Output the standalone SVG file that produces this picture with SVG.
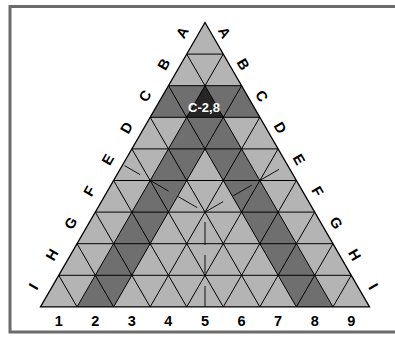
<svg xmlns="http://www.w3.org/2000/svg" width="395" height="341" viewBox="0 0 395 341">
  <style>
    .light { fill: #b4b4b4; }
    .dark { fill: #6f6f6f; }
    .mark { fill: #262626; }
    .grid { stroke: #000; stroke-width: 1; fill: none; }
    .guide { stroke: #111; stroke-width: 1; fill: none; }
    .lbl { font-family: "Liberation Sans", Arial, sans-serif; font-weight: bold; font-size: 14.5px; fill: #000; text-anchor: middle; }
    .cell-lbl { font-family: "Liberation Sans", Arial, sans-serif; font-weight: bold; font-size: 13px; fill: #fff; text-anchor: middle; }
  </style>
  <rect width="395" height="341" fill="#fff"/>
  <rect id="frame" x="10" y="6.5" width="390" height="325.5" fill="none" stroke="#6b6b6b" stroke-width="3"/>

  <g id="cells">
    <polygon class="light" points="205,22.5 40.48,306.9 369.52,306.9"/>
    <polygon class="dark" points="168.44,85.7 241.56,85.7 259.84,117.3 150.16,117.3"/>
    <polygon class="dark" points="186.72,117.3 223.28,117.3 241.56,148.9 168.44,148.9"/>
    <polygon class="dark" points="168.44,148.9 205,148.9 113.6,306.9 77.04,306.9"/>
    <polygon class="dark" points="205,148.9 241.56,148.9 332.96,306.9 296.4,306.9"/>
    <polygon id="cell-C-2-8" class="mark" points="205,85.7 186.72,117.3 223.28,117.3"/>
  </g>

  <g id="grid" class="grid">
    <path d="M186.72,54.1H223.28 M168.44,85.7H241.56 M150.16,117.3H259.84 M131.88,148.9H278.12 M113.6,180.5H296.4 M95.32,212.1H314.68 M77.04,243.7H332.96 M58.76,275.3H351.24"/>
    <path d="M77.04,306.9L223.28,54.1 M113.6,306.9L241.56,85.7 M150.16,306.9L259.84,117.3 M186.72,306.9L278.12,148.9 M223.28,306.9L296.4,180.5 M259.84,306.9L314.68,212.1 M296.4,306.9L332.96,243.7 M332.96,306.9L351.24,275.3"/>
    <path d="M332.96,306.9L186.72,54.1 M296.4,306.9L168.44,85.7 M259.84,306.9L150.16,117.3 M223.28,306.9L131.88,148.9 M186.72,306.9L113.6,180.5 M150.16,306.9L95.32,212.1 M113.6,306.9L77.04,243.7 M77.04,306.9L58.76,275.3"/>
    <polygon points="205,22.5 40.48,306.9 369.52,306.9" stroke-width="1.3"/>
  </g>

  <g id="guides" class="guide">
    <path d="M197.2,207.6L178.2,196.6 M168.6,191.1L150,180.35 M140.05,174.6L124.5,165.6"/>
    <path d="M205,212.1L223.2,201.6 M233.3,195.75L251.8,185.1 M260,180.35L279,169.35"/>
    <path d="M205,222V245 M205,255V273 M205,286V306.9"/>
  </g>

  <g id="cell-label">
    <text class="cell-lbl" x="204" y="112.3">C-2,8</text>
  </g>

  <g id="left-labels">
    <text class="lbl" transform="translate(182.3,32.5) rotate(-60)" y="5">A</text>
    <text class="lbl" transform="translate(163.7,64.25) rotate(-60)" y="5">B</text>
    <text class="lbl" transform="translate(145.1,96) rotate(-60)" y="5">C</text>
    <text class="lbl" transform="translate(126.5,127.75) rotate(-60)" y="5">D</text>
    <text class="lbl" transform="translate(107.9,159.5) rotate(-60)" y="5">E</text>
    <text class="lbl" transform="translate(89.3,191.25) rotate(-60)" y="5">F</text>
    <text class="lbl" transform="translate(70.7,223) rotate(-60)" y="5">G</text>
    <text class="lbl" transform="translate(52.1,254.75) rotate(-60)" y="5">H</text>
    <text class="lbl" transform="translate(33.5,286.5) rotate(-60)" y="5">I</text>
  </g>
  <g id="right-labels">
    <text class="lbl" transform="translate(224.5,32.5) rotate(60)" y="5">A</text>
    <text class="lbl" transform="translate(243.1,64.25) rotate(60)" y="5">B</text>
    <text class="lbl" transform="translate(261.7,96) rotate(60)" y="5">C</text>
    <text class="lbl" transform="translate(280.3,127.75) rotate(60)" y="5">D</text>
    <text class="lbl" transform="translate(298.9,159.5) rotate(60)" y="5">E</text>
    <text class="lbl" transform="translate(317.5,191.25) rotate(60)" y="5">F</text>
    <text class="lbl" transform="translate(336.1,223) rotate(60)" y="5">G</text>
    <text class="lbl" transform="translate(354.7,254.75) rotate(60)" y="5">H</text>
    <text class="lbl" transform="translate(373.3,286.5) rotate(60)" y="5">I</text>
  </g>
  <g id="bottom-labels">
    <text class="lbl" x="58.8" y="325.5">1</text>
    <text class="lbl" x="95.3" y="325.5">2</text>
    <text class="lbl" x="131.9" y="325.5">3</text>
    <text class="lbl" x="168.4" y="325.5">4</text>
    <text class="lbl" x="205" y="325.5">5</text>
    <text class="lbl" x="241.6" y="325.5">6</text>
    <text class="lbl" x="278.1" y="325.5">7</text>
    <text class="lbl" x="314.7" y="325.5">8</text>
    <text class="lbl" x="351.2" y="325.5">9</text>
  </g>
</svg>
